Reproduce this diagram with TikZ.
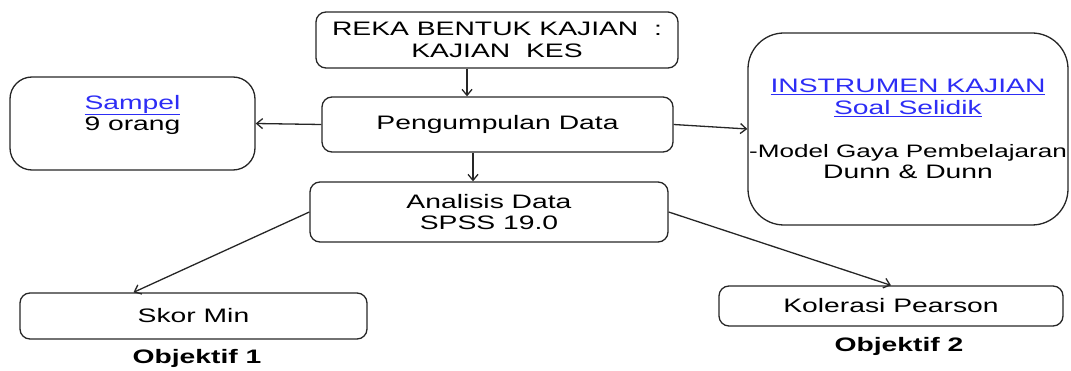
\documentclass[tikz,border=0pt]{standalone}
\usepackage{fontspec}
\setmainfont[FakeStretch=1.45]{Liberation Sans}
\usetikzlibrary{arrows.meta}
\definecolor{linkblue}{RGB}{45,45,245}

\begin{document}
\begin{tikzpicture}[x=1pt,y=-1pt]
   \useasboundingbox (0,0) rectangle (1071,371);
   \tikzstyle{every node}=[draw=black!85,line width=1.3pt,rounded corners=10pt,inner sep=0pt,align=center,
                           font=\fontsize{19.5}{21.5}\selectfont]
\node(reka) [minimum width=362pt,minimum height=56pt] at (497,40) {REKA BENTUK KAJIAN\ \ :\\KAJIAN\ \ KES};
\node(pengumpulan) [minimum width=351pt,minimum height=55pt] at (497.5,124.5) {Pengumpulan Data};
\node(analisis) [minimum width=358pt,minimum height=60pt] at (489,212) {Analisis Data\\SPSS 19.0};
\node(sampel) [minimum width=245pt,minimum height=93pt,rounded corners=22pt] at (132.5,123.5)
      {\textcolor{linkblue}{\underline{Sampel}}\\9 orang\\ };
\node(instrumen) [minimum width=320pt,minimum height=192pt,rounded corners=36pt,inner xsep=-20pt] at (908,129)
      {\textcolor{linkblue}{\underline{INSTRUMEN KAJIAN}}\\\textcolor{linkblue}{\underline{Soal Selidik}}\\ \\
       {\fontsize{18}{21.5}\selectfont -Model Gaya Pembelajaran}\\Dunn \& Dunn};
\node(skor) [minimum width=347pt,minimum height=46pt] at (193.5,316) {Skor Min};
\node(kolerasi) [minimum width=344pt,minimum height=40pt] at (891,306) {Kolerasi Pearson};

\tikzstyle{every node}=[font=\bfseries\fontsize{19.5}{21.5}\selectfont]
\node(obj1) at (197,358) {Objektif 1};
\node(obj2) at (899,346) {Objektif 2};

\tikzstyle{every edge}=[draw=black!85,line width=1.3pt,-{Straight Barb[length=6pt,width=10pt]}]
\path
([xshift=-30pt]reka.south) edge ([xshift=-30pt]reka.south |- pengumpulan.north)
([xshift=-24.5pt]pengumpulan.south) edge ([xshift=-24.5pt]pengumpulan.south |- analisis.north)
(pengumpulan.west) edge (sampel.east)
(pengumpulan.east) edge (instrumen.west)
(analisis.west) edge ([xshift=-60pt]skor.north)
(analisis.east) edge (kolerasi.north);

\end{tikzpicture}
\end{document}
